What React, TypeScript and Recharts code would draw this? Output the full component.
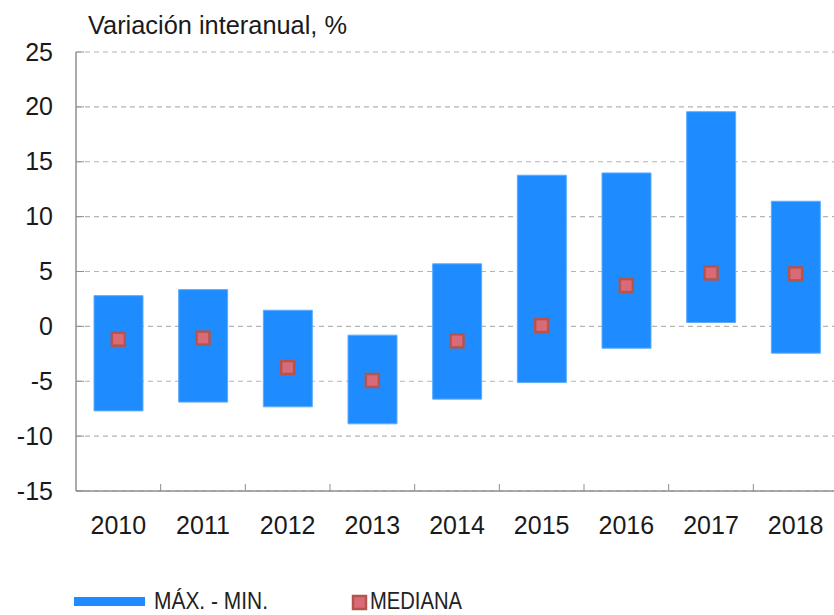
import React from "react";
import { ComposedChart, Bar, Line, XAxis, YAxis, CartesianGrid } from "recharts";

const years = ["2010", "2011", "2012", "2013", "2014", "2015", "2016", "2017", "2018"];
const maxValues = [2.8, 3.35, 1.47, -0.8, 5.7, 13.77, 13.98, 19.56, 11.4];
const minValues = [-7.7, -6.9, -7.33, -8.88, -6.63, -5.12, -1.99, 0.35, -2.44];
const medianValues = [-1.17, -1.07, -3.75, -4.93, -1.32, 0.07, 3.72, 4.87, 4.78];
const yTicks = [-15, -10, -5, 0, 5, 10, 15, 20, 25];

const titleText = "Variación interanual, %";
const legendRange = "MÁX. - MIN.";
const legendMedian = "MEDIANA";

const data = years.map((y, i) => ({
  year: y,
  range: [minValues[i], maxValues[i]],
  median: medianValues[i],
}));

const FONT = "'Liberation Sans', Arial, Helvetica, sans-serif";
const BLUE = "#1e8cff";
const MED_FILL = "#d96a78";
const MED_STROKE = "#b3554c";
const AXIS = "#8f8f8f";

const CHART_W = 838;
const CHART_H = 615;
const Y_AXIS_W = 76;
const MARGIN = { top: 52, right: 0, left: 0, bottom: 0 };
const X_AXIS_H = 124;
const BAND = (CHART_W - Y_AXIS_W - MARGIN.right) / years.length;

const XTick = (props: any) => {
  const { x, y, payload, index } = props;
  return (
    <g>
      {index < years.length - 1 && (
        <line x1={x + BAND / 2} x2={x + BAND / 2} y1={y} y2={y - 7} stroke={AXIS} strokeWidth={1} />
      )}
      <text x={x} y={y} dy={43} textAnchor="middle" fontFamily={FONT} fontSize={25} fill="#1a1a1a">
        {payload.value}
      </text>
    </g>
  );
};

const Y_TICK_MARGIN = 23;
const YTick = (props: any) => {
  const { x, y, payload } = props;
  return (
    <g>
      <line x1={x + Y_TICK_MARGIN} x2={x + Y_TICK_MARGIN + 8} y1={y} y2={y} stroke={AXIS} strokeWidth={1} />
      <text x={x} y={y} dy={8.5} textAnchor="end" fontFamily={FONT} fontSize={25} fill="#1a1a1a">
        {payload.value}
      </text>
    </g>
  );
};

const MedianDot = (props: any) => {
  const { cx, cy, index } = props;
  if (cx == null || cy == null) return <g key={index} />;
  return (
    <rect
      key={index}
      x={cx - 6.5}
      y={cy - 6.5}
      width={13}
      height={13}
      fill={MED_FILL}
      stroke={MED_STROKE}
      strokeWidth={2.5}
    />
  );
};

export default function App() {
  return (
    <div style={{ position: "absolute", left: 0, top: 0, width: 834, height: 615, overflow: "hidden", background: "#fff" }}>
      <ComposedChart width={CHART_W} height={CHART_H} data={data} margin={MARGIN}>
        <CartesianGrid vertical={false} stroke="#b4b4b4" strokeDasharray="5 4" strokeWidth={1.2} />
        <XAxis
          dataKey="year"
          height={X_AXIS_H}
          tickLine={false}
          tickSize={0}
          tickMargin={0}
          axisLine={{ stroke: AXIS, strokeWidth: 1.5 }}
          tick={<XTick />}
          interval={0}
        />
        <YAxis
          width={Y_AXIS_W}
          domain={[-15, 25]}
          ticks={yTicks}
          type="number"
          tickLine={false}
          tickSize={0}
          tickMargin={Y_TICK_MARGIN}
          axisLine={{ stroke: AXIS, strokeWidth: 1.5 }}
          tick={<YTick />}
          interval={0}
        />
        <Bar dataKey="range" fill={BLUE} stroke="#5eacff" strokeWidth={1} barSize={49} isAnimationActive={false} />
        <Line
          dataKey="median"
          stroke="none"
          dot={<MedianDot />}
          activeDot={false}
          isAnimationActive={false}
        />
      </ComposedChart>
      <svg
        width={834}
        height={615}
        style={{ position: "absolute", left: 0, top: 0, pointerEvents: "none" }}
      >
        <text x={88} y={33.5} fontFamily={FONT} fontSize={25} fill="#1a1a1a" textLength={259} lengthAdjust="spacingAndGlyphs">
          {titleText}
        </text>
        <rect x={74} y={597} width={71} height={9} fill={BLUE} />
        <text x={154} y={609} fontFamily={FONT} fontSize={23} fill="#222" textLength={114} lengthAdjust="spacingAndGlyphs">
          {legendRange}
        </text>
        <rect x={353} y={596} width={13} height={13} fill={MED_FILL} stroke={MED_STROKE} strokeWidth={2.5} />
        <text x={370} y={609} fontFamily={FONT} fontSize={23} fill="#222" textLength={92} lengthAdjust="spacingAndGlyphs">
          {legendMedian}
        </text>
      </svg>
    </div>
  );
}
